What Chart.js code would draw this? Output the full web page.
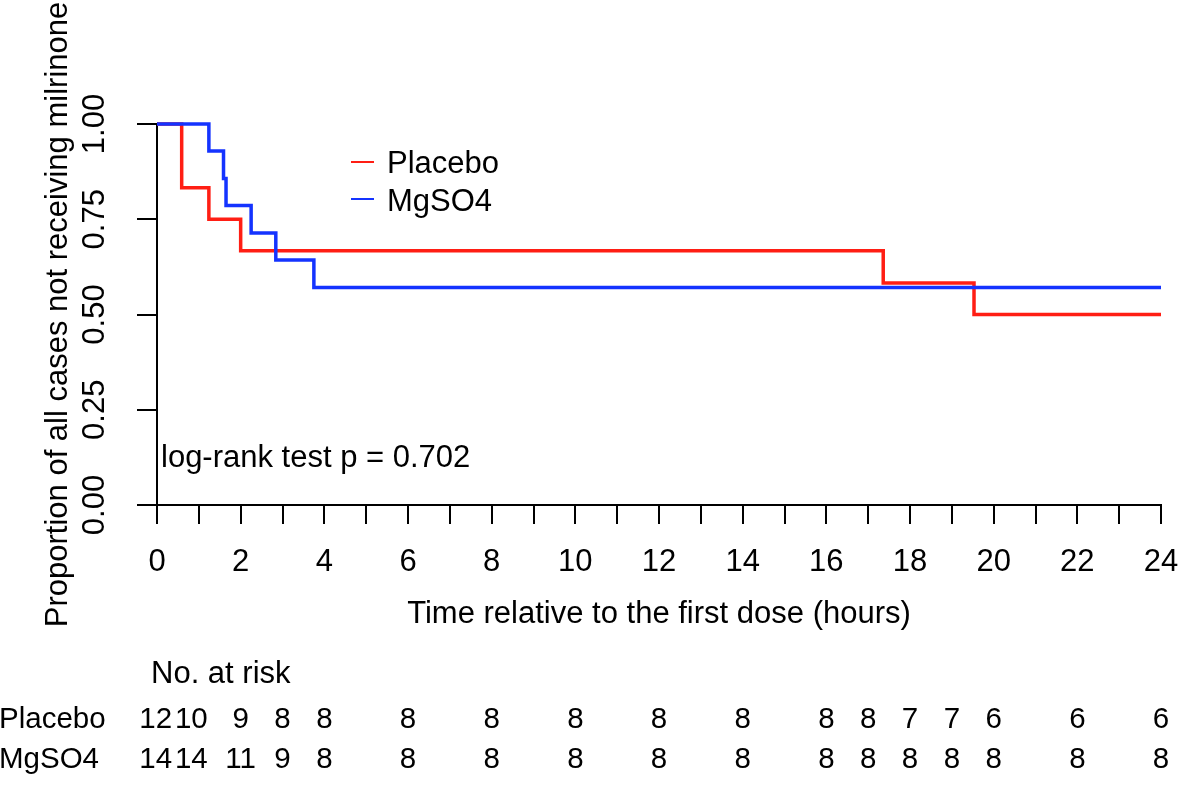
<!DOCTYPE html>
<html>
<head>
<meta charset="utf-8">
<script src="https://cdn.jsdelivr.net/npm/chart.js@4.4.0/dist/chart.umd.min.js"></script>
<style>
  html, body { margin: 0; padding: 0; background: #fff; }
  #km { display: block; }
</style>
</head>
<body>
<canvas id="km" width="1181" height="785"></canvas>
<script>
// KM step data (hours, proportion not receiving milrinone)
const placeboTimes = [0, 0.59, 1.24, 2.0, 17.36, 19.53, 24];
const placeboSurv  = [1.0, 0.833, 0.750, 0.667, 0.583, 0.500, 0.500];
const mgTimes = [0, 1.24, 1.59, 1.65, 2.25, 2.84, 3.75, 24];
const mgSurv  = [1.0, 0.929, 0.857, 0.786, 0.714, 0.643, 0.571, 0.571];

// number at risk table (column positions on the time axis)
const riskTimes   = [-0.03, 0.82, 2, 3, 4, 6, 8, 10, 12, 14, 16, 17, 18, 19, 20, 22, 24];
const riskPlacebo = [12, 10, 9, 8, 8, 8, 8, 8, 8, 8, 8, 8, 7, 7, 6, 6, 6];
const riskMg      = [14, 14, 11, 9, 8, 8, 8, 8, 8, 8, 8, 8, 8, 8, 8, 8, 8];

const yTicks = [0, 0.25, 0.5, 0.75, 1];
const pValueText = "log-rank test p = 0.702";

const RED = "#ff1e14";
const BLUE = "#1433ff";
const FONT = "'Liberation Sans', Arial, sans-serif";
const FS = 31;
const FS_TABLE = 29.5;

const toPts = (ts, vs) => ts.map((t, i) => ({ x: t, y: vs[i] }));

// legend, p-value and risk table drawn on the canvas after the chart
const extras = {
  id: "extras",
  afterDraw(chart) {
    const { ctx, scales: { x } } = chart;
    ctx.save();
    ctx.font = `${FS}px ${FONT}`;
    ctx.fillStyle = "#000";
    ctx.textBaseline = "alphabetic";

    // legend
    const legend = [
      { ds: chart.data.datasets[0], y: 162, base: 173 },
      { ds: chart.data.datasets[1], y: 199, base: 211 }
    ];
    legend.forEach(l => {
      ctx.strokeStyle = l.ds.borderColor;
      ctx.lineWidth = 2;
      ctx.beginPath();
      ctx.moveTo(351, l.y);
      ctx.lineTo(374, l.y);
      ctx.stroke();
      ctx.textAlign = "left";
      ctx.fillText(l.ds.label, 387, l.base);
    });

    // p value
    ctx.fillText(pValueText, 161, 467);

    // at risk
    ctx.fillText("No. at risk", 151, 683);
    ctx.font = `${FS_TABLE}px ${FONT}`;
    ctx.fillText("Placebo", -1, 728);
    ctx.fillText("MgSO4", -1, 768);
    ctx.textAlign = "center";
    riskTimes.forEach((t, i) => {
      const px = x.getPixelForValue(t);
      ctx.fillText(String(riskPlacebo[i]), px, 728);
      ctx.fillText(String(riskMg[i]), px, 768);
    });
    ctx.restore();
  }
};

new Chart(document.getElementById("km"), {
  type: "line",
  data: {
    datasets: [
      {
        label: "Placebo",
        data: toPts(placeboTimes, placeboSurv),
        borderColor: RED,
        borderWidth: 3.5,
        stepped: true,
        pointRadius: 0,
        fill: false,
        clip: false,
        order: 2
      },
      {
        label: "MgSO4",
        data: toPts(mgTimes, mgSurv),
        borderColor: BLUE,
        borderWidth: 3.5,
        stepped: true,
        pointRadius: 0,
        fill: false,
        clip: false,
        order: 1
      }
    ]
  },
  options: {
    responsive: false,
    animation: false,
    layout: { padding: { top: 124, right: 20, bottom: 0, left: 0 } },
    plugins: { legend: { display: false }, tooltip: { enabled: false } },
    scales: {
      x: {
        type: "linear",
        min: 0,
        max: 24,
        afterFit: s => { s.height = 280; s.paddingLeft = 0; s.paddingRight = 0; },
        border: { display: true, color: "#000", width: 2 },
        grid: { drawOnChartArea: false, drawTicks: true, tickLength: 19, tickColor: "#000", tickWidth: 2, lineWidth: 2 },
        ticks: {
          stepSize: 1,
          autoSkip: false,
          maxRotation: 0,
          padding: 20,
          color: "#000",
          font: { family: FONT, size: FS },
          callback: v => (v % 2 === 0 ? String(v) : "")
        },
        title: {
          display: true,
          text: "Time relative to the first dose (hours)",
          color: "#000",
          font: { family: FONT, size: FS },
          padding: { top: 0, bottom: 152 }
        }
      },
      y: {
        type: "linear",
        min: 0,
        max: 1,
        afterFit: s => { s.width = 157; s.paddingTop = 0; s.paddingBottom = 0; },
        afterBuildTicks: s => { s.ticks = yTicks.map(v => ({ value: v })); },
        border: { display: true, color: "#000", width: 2 },
        grid: { drawOnChartArea: false, drawTicks: true, tickLength: 20, tickColor: "#000", tickWidth: 2, lineWidth: 2 },
        ticks: {
          minRotation: 90,
          maxRotation: 90,
          crossAlign: "center",
          padding: 11,
          color: "#000",
          font: { family: FONT, size: FS },
          callback: v => Number(v).toFixed(2)
        },
        title: {
          display: true,
          text: "Proportion of all cases not receiving milrinone",
          color: "#000",
          font: { family: FONT, size: FS },
          padding: { top: 40, bottom: 0 }
        }
      }
    }
  },
  plugins: [extras]
});
</script>
</body>
</html>
